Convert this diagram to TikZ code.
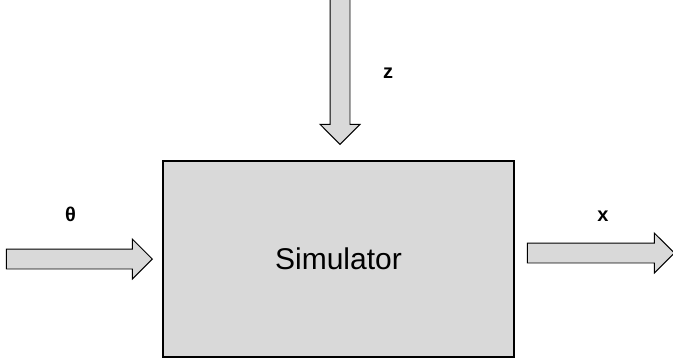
\documentclass[tikz,border=0pt]{standalone}
\usepackage{fontspec}
\setmainfont{Liberation Sans}
\usetikzlibrary{shapes.arrows}
\definecolor{boxgray}{HTML}{D9D9D9}

\begin{document}
\begin{tikzpicture}[
        x=1pt, y=-1pt,
        simbox/.style={rectangle, draw=black, line width=1.6pt, fill=boxgray,
            minimum width=351pt, minimum height=196pt, inner sep=0pt,
            font=\fontsize{30}{34}\selectfont},
        blockarrow/.style={single arrow, draw=black, line width=0.9pt, fill=boxgray,
            inner xsep=0pt, inner ysep=9.5pt, single arrow head extend=10pt,
            single arrow tip angle=90, single arrow head indent=0pt, anchor=tip},
        varlabel/.style={font=\bfseries\fontsize{20}{24}\selectfont, inner sep=0pt}
    ]
    \useasboundingbox (0,0) rectangle (673,362);

    % simulator block
    \node[simbox] (sim) at (338.5,259) {Simulator};

    % inputs and output
    \node[blockarrow, minimum height=152pt, rotate=-90] (zarrow) at (340,145) {};
    \node[blockarrow, minimum height=146pt] (thetaarrow) at (153,259) {};
    \node[blockarrow, minimum height=147pt] (xarrow) at (675,253) {};

    % labels
    \node[varlabel] (zlabel) at (388,73) {z};
    \node[varlabel] (thetalabel) at (70.5,214) {θ};
    \node[varlabel] (xlabel) at (603,216) {x};

\end{tikzpicture}
\end{document}
